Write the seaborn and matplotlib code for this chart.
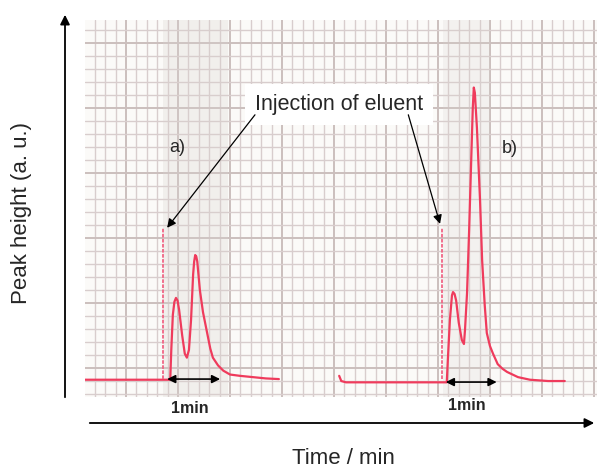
import matplotlib
matplotlib.use("Agg")
import matplotlib.pyplot as plt
from matplotlib.ticker import MultipleLocator, NullFormatter
from matplotlib.patches import FancyArrowPatch
import pandas as pd
import seaborn as sns

# chromatogram a) -- time in min, peak height in a.u.
time_a = [0.21, 1.85, 1.87, 1.90, 1.93, 1.96, 1.99, 2.02, 2.08, 2.13, 2.17, 2.21, 2.25,
          2.29, 2.31, 2.33, 2.35, 2.37, 2.42, 2.48, 2.56, 2.62, 2.67, 2.77, 2.87, 3.00,
          3.19, 3.44, 3.69, 3.94]
height_a = [0.1, 0.1, 2.4, 5.1, 6.1, 6.4, 6.2, 5.5, 3.5, 2.1, 1.8, 2.4, 4.7,
            8.2, 9.2, 9.7, 9.6, 9.2, 7.0, 5.3, 3.7, 2.5, 1.8, 1.2, 0.8, 0.5,
            0.4, 0.3, 0.2, 0.15]

# chromatogram b)
time_b = [5.10, 5.14, 5.23, 7.17, 7.19, 7.23, 7.27, 7.29, 7.32, 7.35, 7.40, 7.46, 7.50,
          7.52, 7.56, 7.60, 7.64, 7.67, 7.69, 7.71, 7.75, 7.81, 7.85, 7.90, 7.94, 8.00,
          8.06, 8.15, 8.24, 8.33, 8.54, 8.77, 9.12, 9.44]
height_b = [0.4, 0.0, -0.1, -0.1, 1.6, 4.7, 6.6, 6.85, 6.7, 6.2, 4.5, 3.15, 2.85,
            3.9, 6.8, 11.6, 17.0, 21.0, 22.6, 22.2, 19.5, 13.9, 9.3, 5.85, 3.7, 2.7,
            2.1, 1.3, 0.95, 0.7, 0.3, 0.1, 0.0, 0.0]

# injection of eluent (time, height of the marker)
inject_time = [1.71, 7.08]
inject_height = [11.8, 11.8]

# 1 min scale bars (start, end, level)
bar_start = [1.79, 7.15]
bar_end = [2.81, 8.13]
bar_level = [0.15, -0.08]

sns.set_style("white")
plt.rcParams["font.family"] = ["Liberation Sans", "DejaVu Sans"]

fig = plt.figure(figsize=(5.97, 4.68), dpi=100)
ax = fig.add_axes([85 / 597, 71 / 468, 512 / 597, 377 / 468])
ax.set_facecolor("#fbfaf8")

# recorder paper grid
ax.set_xlim(0.21, 10.06)
ax.set_ylim(-1.23, 27.8)
ax.xaxis.set_major_locator(MultipleLocator(1))
ax.xaxis.set_minor_locator(MultipleLocator(0.2))
ax.yaxis.set_major_locator(MultipleLocator(5, offset=1))
ax.yaxis.set_minor_locator(MultipleLocator(1))
ax.grid(which="major", color="#cbbfbd", lw=1.4)
ax.grid(which="minor", color="#d8cdcd", lw=1.0)
ax.tick_params(which="both", length=0)
ax.xaxis.set_major_formatter(NullFormatter())
ax.yaxis.set_major_formatter(NullFormatter())
sns.despine(ax=ax, left=True, bottom=True)
ax.set_axisbelow(True)

# slightly darker paper behind the peaks
ax.axvspan(1.71, 2.96, color="#d9d4d0", alpha=0.28, lw=0)
ax.axvspan(7.10, 8.00, color="#d9d4d0", alpha=0.22, lw=0)

red = "#ef3b5c"
df_a = pd.DataFrame({"t": time_a, "h": height_a})
df_b = pd.DataFrame({"t": time_b, "h": height_b})
sns.lineplot(data=df_a, x="t", y="h", ax=ax, color=red, lw=1.6, sort=False)
sns.lineplot(data=df_b, x="t", y="h", ax=ax, color=red, lw=1.6, sort=False)
ax.set_xlabel("")
ax.set_ylabel("")

for t, h in zip(inject_time, inject_height):
    ax.plot([t, t], [bar_level[0], h], color="#f06585", lw=1.3, ls=(0, (2, 0.8)))

for s, e, lv in zip(bar_start, bar_end, bar_level):
    ax.annotate("", xy=(e, lv), xytext=(s, lv),
                arrowprops=dict(arrowstyle="<|-|>", color="black", lw=1.2,
                                mutation_scale=12, shrinkA=0, shrinkB=0))

ax.text(2.23, -2.1, "1min", ha="center", va="center", fontsize=11.5,
        fontweight="bold", clip_on=False)
ax.text(7.56, -1.9, "1min", ha="center", va="center", fontsize=11.5,
        fontweight="bold", clip_on=False)

ax.text(1.98, 18.0, "a)", ha="center", va="center", fontsize=13)
ax.text(8.38, 17.9, "b)", ha="center", va="center", fontsize=13)

# label box and arrows to the injection points
ax.text(5.10, 21.3, "Injection of eluent", ha="center", va="center", fontsize=15.5,
        bbox=dict(boxstyle="square,pad=0.45", fc="white", ec="none"))
ax.annotate("", xy=(1.79, 11.8), xytext=(3.48, 20.5),
            arrowprops=dict(arrowstyle="-|>", color="black", lw=0.9, mutation_scale=13,
                            shrinkA=0, shrinkB=0))
ax.annotate("", xy=(7.04, 12.1), xytext=(6.43, 20.5),
            arrowprops=dict(arrowstyle="-|>", color="black", lw=0.9, mutation_scale=13,
                            shrinkA=0, shrinkB=0))

# drawn axes of the figure
fig.patches.append(FancyArrowPatch((65 / 597, 1 - 400 / 468), (65 / 597, 1 - 12 / 468),
                                   transform=fig.transFigure, arrowstyle="-|>",
                                   mutation_scale=14, color="black", lw=1.3))
fig.patches.append(FancyArrowPatch((87 / 597, 1 - 423 / 468), (597 / 597, 1 - 423 / 468),
                                   transform=fig.transFigure, arrowstyle="-|>",
                                   mutation_scale=14, color="black", lw=1.3))
fig.text(22 / 597, 1 - 213 / 468, "Peak height (a. u.)", rotation=90, ha="center",
         va="center", fontsize=16)
fig.text(343 / 597, 1 - 459 / 468, "Time / min", ha="center", va="center", fontsize=16)

fig.savefig("out.png", dpi=100)
